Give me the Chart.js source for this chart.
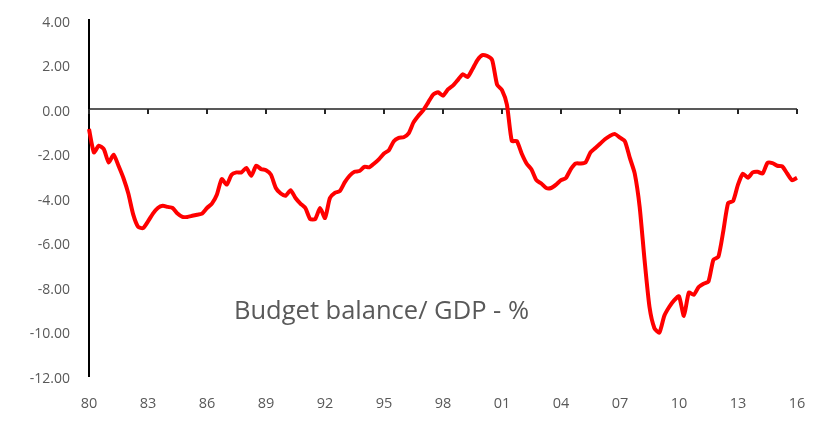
<!DOCTYPE html>
<html>
<head>
<meta charset="utf-8">
<script src="https://cdn.jsdelivr.net/npm/chart.js@4.4.0/dist/chart.umd.min.js"></script>
<style>
  body { margin: 0; background: #fff; }
  #wrap { width: 825px; height: 422px; }
</style>
</head>
<body>
<div id="wrap"><canvas id="chart-line" width="825" height="422"></canvas></div>
<script>
// quarterly, 1980Q1 .. 2016Q1
const startYear = 1980;
const endYear = 2016;
const tickYears = ['80', '83', '86', '89', '92', '95', '98', '01', '04', '07', '10', '13', '16'];
const yTicks = [4, 2, 0, -2, -4, -6, -8, -10, -12];
const balance = [
  -0.9, -1.95, -1.65, -1.8,
  -2.4, -2.05, -2.55, -3.1,
  -3.8, -4.75, -5.3, -5.35,
  -5.05, -4.7, -4.45, -4.35,
  -4.4, -4.45, -4.7, -4.85,
  -4.85, -4.8, -4.75, -4.7,
  -4.45, -4.25, -3.85, -3.15,
  -3.4, -2.95, -2.85, -2.85,
  -2.65, -3.0, -2.55, -2.7,
  -2.75, -2.95, -3.55, -3.8,
  -3.9, -3.65, -4.0, -4.25,
  -4.45, -4.95, -4.95, -4.45,
  -4.9, -4.0, -3.77, -3.69,
  -3.3, -3.0, -2.82, -2.79,
  -2.6, -2.62, -2.45, -2.25,
  -2.0, -1.85, -1.45, -1.3,
  -1.27, -1.1, -0.6, -0.3,
  -0.05, 0.3, 0.65, 0.75,
  0.6, 0.88, 1.05, 1.3,
  1.56, 1.44, 1.8, 2.2,
  2.42, 2.38, 2.2, 1.1,
  0.85, 0.2, -1.44, -1.44,
  -2.0, -2.45, -2.72, -3.2,
  -3.35, -3.55, -3.55, -3.4,
  -3.2, -3.1, -2.7, -2.45,
  -2.45, -2.4, -1.95, -1.75,
  -1.55, -1.35, -1.2, -1.13,
  -1.29, -1.45, -2.2, -2.9,
  -4.4, -6.8, -8.9, -9.85,
  -10.05, -9.3, -8.9, -8.6,
  -8.42, -9.3, -8.25, -8.35,
  -8.0, -7.85, -7.75, -6.77,
  -6.65, -5.5, -4.22, -4.14,
  -3.4, -2.91, -3.09, -2.85,
  -2.82, -2.9, -2.42, -2.43,
  -2.55, -2.58, -2.9, -3.2,
  -3.09
];

const labels = [];
for (let y = startYear; y <= endYear; y++) {
  for (let q = 1; q <= 4; q++) {
    if (y === endYear && q > 1) break;
    labels.push(String(y).slice(2) + ' Q' + q);
  }
}

const greyText = '#595959';

// zero line tick marks + caption
const extras = {
  id: 'extras',
  afterDatasetsDraw(chart) {
    const ctx = chart.ctx;
    const x = chart.scales.x;
    const y = chart.scales.y;
    const y0 = y.getPixelForValue(0);
    ctx.save();
    ctx.strokeStyle = '#262626';
    ctx.lineWidth = 2;
    for (let i = 0; i < labels.length; i += 12) {
      const px = Math.round(x.getPixelForValue(i));
      ctx.beginPath();
      ctx.moveTo(px, y0);
      ctx.lineTo(px, y0 + 5);
      ctx.stroke();
    }
    ctx.fillStyle = greyText;
    ctx.font = '25.5px "Open Sans"';
    ctx.textBaseline = 'middle';
    ctx.fillText('Budget balance/ GDP - %', 234, 312);
    ctx.restore();
  }
};

new Chart(document.getElementById('chart-line'), {
  type: 'line',
  data: {
    labels: labels,
    datasets: [{
      label: 'Budget balance/ GDP - %',
      data: balance,
      borderColor: '#ff0000',
      borderWidth: 4,
      pointRadius: 0,
      tension: 0.2,
      fill: false
    }]
  },
  options: {
    responsive: false,
    animation: false,
    devicePixelRatio: 1,
    layout: { padding: { top: 20, right: 28, left: 0, bottom: 0 } },
    plugins: {
      legend: { display: false },
      tooltip: { enabled: false }
    },
    scales: {
      x: {
        type: 'category',
        offset: false,
        border: { display: false },
        grid: { display: false, drawTicks: false },
        afterFit: (s) => { s.height = 46; s.paddingLeft = 0; s.paddingRight = 0; },
        ticks: {
          autoSkip: false,
          maxRotation: 0,
          padding: 19,
          color: greyText,
          font: { size: 14.5, family: 'Open Sans' },
          callback: (v, i) => (i % 12 === 0 ? tickYears[i / 12] : null)
        }
      },
      y: {
        min: -12,
        max: 4,
        border: { display: true, color: '#000', width: 2 },
        grid: {
          drawTicks: false,
          color: (c) => (c.tick && c.tick.value === 0 ? '#595959' : 'rgba(0,0,0,0)'),
          lineWidth: 2
        },
        afterFit: (s) => { s.width = 89; s.paddingTop = 0; s.paddingBottom = 0; },
        afterBuildTicks: (s) => { s.ticks = yTicks.map(v => ({ value: v })); },
        ticks: {
          padding: 19,
          labelOffset: 3,
          color: greyText,
          font: { size: 14, family: 'Open Sans' },
          callback: (v) => Number(v).toFixed(2)
        }
      }
    }
  },
  plugins: [extras]
});
</script>
</body>
</html>
